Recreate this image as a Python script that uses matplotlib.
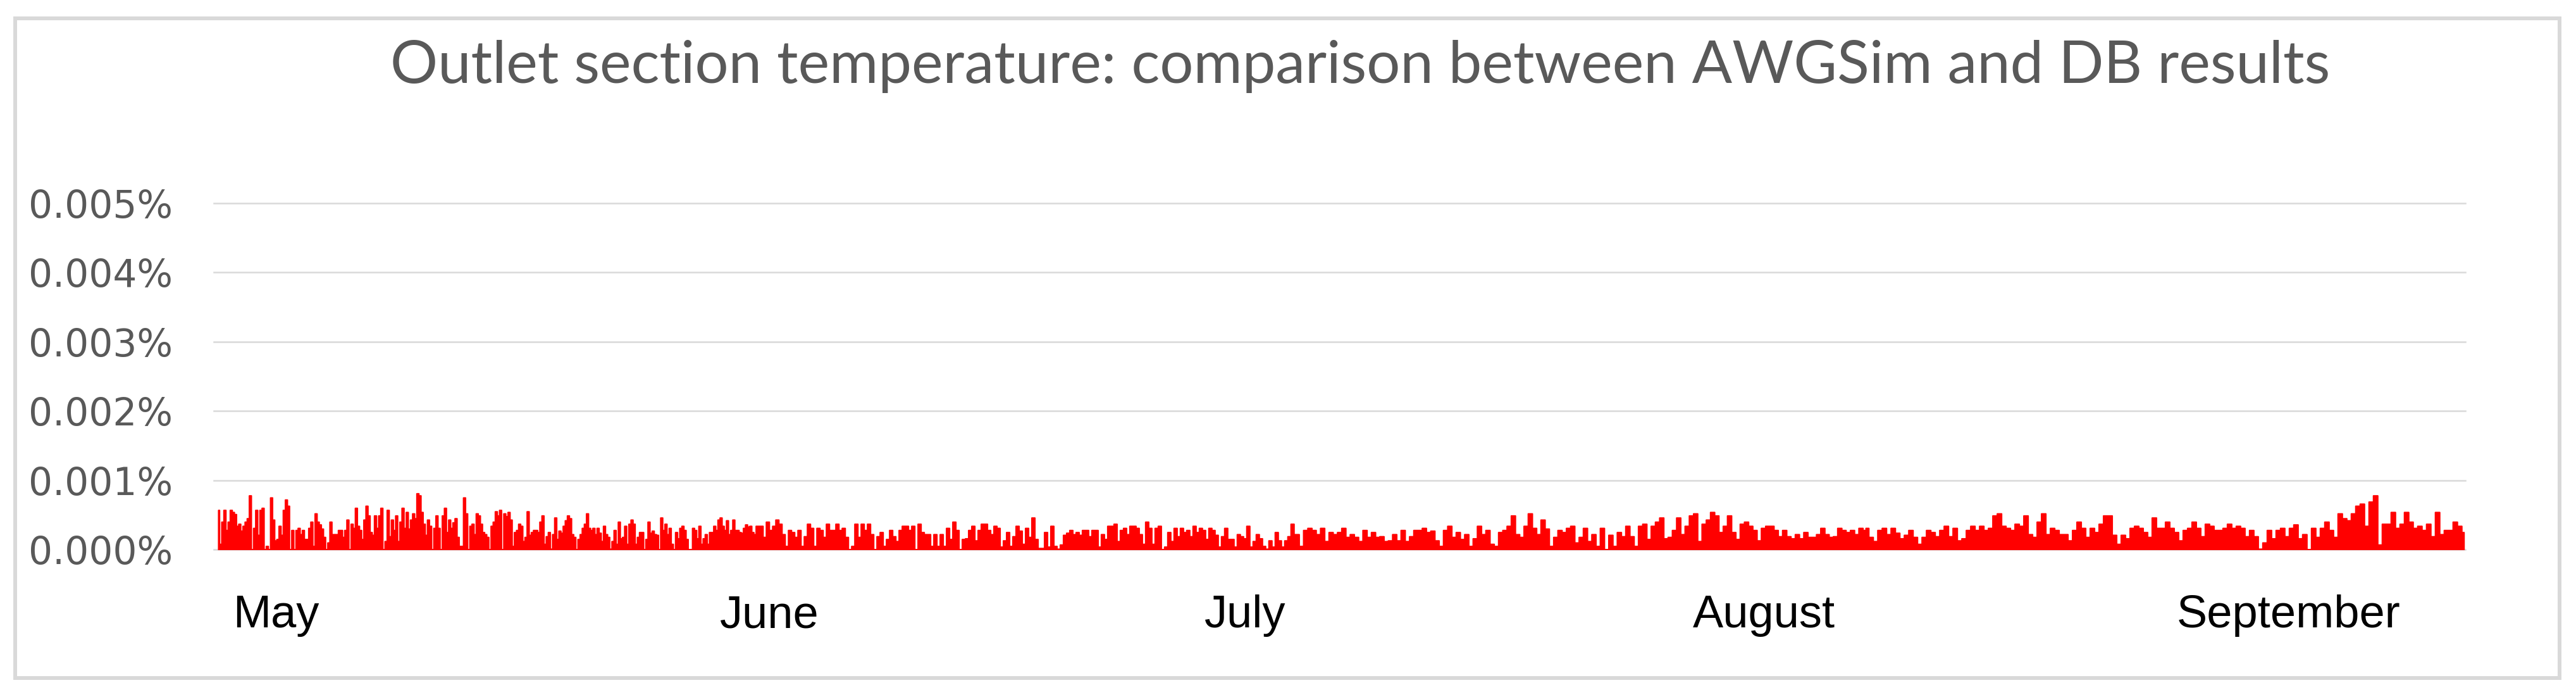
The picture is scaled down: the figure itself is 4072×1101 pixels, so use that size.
import numpy as np
import matplotlib
matplotlib.use("Agg")
import matplotlib.pyplot as plt
from matplotlib import transforms
from matplotlib.patches import Rectangle
from matplotlib.ticker import FuncFormatter

# ---------------- data ----------------
TITLE = "Outlet section temperature: comparison between AWGSim and DB results"
months = ["May", "June", "July", "August", "September"]
month_label_day = [1.3, 34.4, 67.3, 100.5, 133.4]   # days since 1 May
yticks_pct = [0.000, 0.001, 0.002, 0.003, 0.004, 0.005]

# relative difference, in thousandths of a percent
seg1_days = (0.3, 36.9)
seg1_vals = [
    0.57, 0.08, 0.40, 0.57, 0.28, 0.40, 0.57, 0.54, 0.51, 0.34,
    0.37, 0.27, 0.34, 0.40, 0.45, 0.78, 0, 0.31, 0.57, 0.21,
    0.57, 0.60, 0, 0.05, 0, 0.75, 0.43, 0.13, 0.15, 0.34,
    0.21, 0.57, 0.72, 0.63, 0, 0.28, 0, 0.28, 0.31, 0.22,
    0.28, 0.15, 0.15, 0.31, 0.40, 0.05, 0.52, 0.40, 0.36, 0.30,
    0.18, 0, 0.10, 0.40, 0.22, 0.22, 0.22, 0.28, 0.28, 0.18,
    0.28, 0.43, 0, 0.37, 0.31, 0.60, 0.34, 0.28, 0.15, 0.43,
    0.63, 0.49, 0.25, 0.21, 0.49, 0.31, 0.49, 0.60, 0, 0.12,
    0.57, 0.19, 0.43, 0.28, 0.49, 0.12, 0.40, 0.60, 0.31, 0.54,
    0.30, 0.43, 0.52, 0.45, 0.81, 0.78, 0.54, 0.37, 0.21, 0.43,
    0.34, 0, 0.31, 0.49, 0.31, 0, 0.49, 0.60, 0.25, 0.43,
    0.31, 0.39, 0.45, 0.18, 0.05, 0.05, 0.75, 0.52, 0, 0.34,
    0.37, 0.22, 0.52, 0.49, 0.37, 0.25, 0.22, 0.18, 0, 0.34,
    0.40, 0.55, 0.49, 0.57, 0, 0.52, 0.48, 0.54, 0.43, 0.05,
    0.25, 0.28, 0.37, 0.34, 0.12, 0.18, 0.55, 0.21, 0.25, 0.28,
    0.28, 0.25, 0.40, 0.49, 0.08, 0.19, 0.25, 0.01, 0.22, 0.46,
    0.15, 0.27, 0.24, 0.34, 0.42, 0.49, 0.45, 0.22, 0.18, 0,
    0.15, 0.22, 0.31, 0.37, 0.52, 0.31, 0.28, 0.31, 0.22, 0.31,
    0.24, 0.12, 0.34, 0.22, 0.18, 0.01, 0.12, 0.28, 0.08, 0.40,
    0.16, 0.18, 0.34, 0.08, 0.37, 0.43, 0.37, 0.08, 0.18, 0.25,
    0.25, 0, 0.15, 0.40, 0.24, 0.27, 0.22, 0.21, 0, 0.46,
    0.28, 0.37, 0.22, 0.31, 0.08, 0, 0.25, 0.16, 0.31, 0.34,
    0.28, 0.15, 0, 0, 0.31, 0.28, 0.16, 0.34, 0.08, 0.16,
    0.22, 0.08, 0.25, 0.25, 0.34, 0.28, 0.43, 0.46, 0.34, 0.28,
    0.42, 0.22, 0.28, 0.43, 0.28, 0.28, 0.25, 0.24, 0.31, 0.36,
    0.33, 0.34, 0.25, 0.22, 0.34,
]

seg2_days = (37.2, 73.5)
seg2_vals = [
    0.34, 0.18, 0.40, 0.28, 0.34, 0.43, 0.37, 0.22, 0.05, 0.28,
    0.25, 0.18, 0.28, 0.05, 0.19, 0.37, 0.31, 0.05, 0.31, 0.28,
    0.18, 0.37, 0.28, 0.28, 0.37, 0.28, 0.31, 0.18, 0, 0.05,
    0.37, 0.18, 0.37, 0.28, 0.37, 0.22, 0, 0.19, 0.25, 0.05,
    0.15, 0.28, 0.19, 0.12, 0.28, 0.34, 0.34, 0.28, 0.34, 0,
    0.37, 0.25, 0.22, 0.22, 0.05, 0.22, 0.05, 0.22, 0.05, 0.31,
    0.15, 0.40, 0.28, 0, 0.15, 0.16, 0.28, 0.34, 0.13, 0.28,
    0.37, 0.37, 0.28, 0.22, 0.34, 0.31, 0.04, 0.13, 0.25, 0.05,
    0.19, 0.34, 0.27, 0.08, 0.31, 0.18, 0.46, 0.15, 0.02, 0.02,
    0.25, 0.04, 0.34, 0.05, 0.01, 0.07, 0.21, 0.24, 0.28, 0.22,
    0.25, 0.21, 0.28, 0.28, 0.19, 0.28, 0.28, 0.04, 0.22, 0.15,
    0.34, 0.34, 0.37, 0.12, 0.28, 0.31, 0.22, 0.34, 0.34, 0.31,
    0.22, 0.08, 0.40, 0.31, 0.08, 0.31, 0.34, 0, 0.04, 0.25,
    0.12, 0.31, 0.19, 0.31, 0.25, 0.28, 0.19, 0.34, 0.25, 0.31,
    0.28, 0.15, 0.31, 0.28, 0.21, 0.04, 0.19, 0.31, 0.15, 0.15,
    0.04, 0.22, 0.19, 0.16, 0.34, 0.04, 0.12, 0.22, 0.16, 0.05,
    0.01, 0.13, 0.04, 0.25, 0.13, 0.04, 0.13, 0.19, 0.37, 0.22,
]

seg3_days = (73.6, 112.2)
seg3_vals = [
    0.22, 0.05, 0.28, 0.31, 0.28, 0.22, 0.31, 0.12, 0.25, 0.22,
    0.25, 0.31, 0.18, 0.22, 0.18, 0.12, 0.28, 0.18, 0.25, 0.18,
    0.19, 0.12, 0.13, 0.22, 0.13, 0.28, 0.12, 0.19, 0.28, 0.28,
    0.31, 0.25, 0.27, 0.13, 0.05, 0.28, 0.34, 0.18, 0.25, 0.15,
    0.22, 0.05, 0.16, 0.34, 0.22, 0.28, 0.08, 0.05, 0.25, 0.28,
    0.34, 0.49, 0.22, 0.18, 0.34, 0.52, 0.31, 0.22, 0.43, 0.30,
    0.05, 0.18, 0.28, 0.25, 0.31, 0.34, 0.10, 0.18, 0.31, 0.12,
    0.22, 0.05, 0.31, 0, 0.21, 0.05, 0.25, 0.19, 0.34, 0.19,
    0.05, 0.34, 0.37, 0.15, 0.34, 0.40, 0.46, 0.16, 0.18, 0.28,
    0.46, 0.22, 0.34, 0.49, 0.52, 0.12, 0.37, 0.43, 0.54, 0.49,
    0.25, 0.34, 0.49, 0.25, 0.15, 0.37, 0.40, 0.34, 0.28, 0.13,
    0.31, 0.34, 0.34, 0.28, 0.19, 0.28, 0.19, 0.16, 0.22, 0.16,
    0.25, 0.18, 0.18, 0.22, 0.31, 0.22, 0.18, 0.19, 0.31, 0.28,
    0.25, 0.28, 0.22, 0.31, 0.28,
]

seg4_days = (112.3, 152.9)
seg4_vals = [
    0.31, 0.18, 0.12, 0.28, 0.31, 0.22, 0.31, 0.24, 0.16, 0.21,
    0.28, 0.18, 0.08, 0.18, 0.28, 0.25, 0.19, 0.28, 0.34, 0.19,
    0.31, 0.13, 0.16, 0.28, 0.34, 0.28, 0.34, 0.28, 0.31, 0.49,
    0.52, 0.34, 0.31, 0.28, 0.37, 0.34, 0.49, 0.22, 0.18, 0.40,
    0.52, 0.22, 0.31, 0.28, 0.22, 0.22, 0.13, 0.28, 0.40, 0.31,
    0.18, 0.31, 0.25, 0.37, 0.49, 0.49, 0.21, 0.08, 0.21, 0.16,
    0.31, 0.34, 0.31, 0.25, 0.18, 0.46, 0.31, 0.31, 0.40, 0.31,
    0.25, 0.13, 0.28, 0.31, 0.40, 0.31, 0.19, 0.37, 0.34, 0.28,
    0.28, 0.31, 0.37, 0.31, 0.34, 0.31, 0.19, 0.28, 0.19, 0.01,
    0.10, 0.28, 0.16, 0.28, 0.31, 0.19, 0.31, 0.36, 0.16, 0.22,
    0, 0.31, 0.18, 0.31, 0.40, 0.28, 0.18, 0.52, 0.45, 0.42,
    0.52, 0.63, 0.66, 0.34, 0.69, 0.78, 0.07, 0.37, 0.37, 0.54,
    0.31, 0.37, 0.54, 0.40, 0.31, 0.34, 0.28, 0.37, 0.19, 0.54,
    0.22, 0.28, 0.28, 0.40, 0.34, 0.25,
]

X_RANGE_DAYS = (0, 153)

# ---------------- figure ----------------
W, H = 4073, 1101
fig = plt.figure(figsize=(W / 100, H / 100), dpi=100)
fig.patch.set_facecolor("white")

# outer chart frame
fig.add_artist(Rectangle((24 / W, 1 - 1071 / H), (4046 - 24) / W, (1071 - 28.5) / H,
                         transform=fig.transFigure, fill=False,
                         edgecolor="#d9d9d9", linewidth=4.3))

ax = fig.add_axes([338 / W, 1 - 868 / H, (3897 - 338) / W, (868 - 321) / H])

segments = [(seg1_days, seg1_vals), (seg2_days, seg2_vals),
            (seg3_days, seg3_vals), (seg4_days, seg4_vals)]
x = np.concatenate([np.linspace(a, b, len(v)) for (a, b), v in segments])
y = np.concatenate([np.asarray(v, dtype=float) for _, v in segments]) * 1e-3  # percent

ax.fill_between(x, 0, y, step="mid", color="#ff0000", linewidth=1.5,
                edgecolor="#ff0000", zorder=3)

ax.set_xlim(*X_RANGE_DAYS)
ax.set_ylim(yticks_pct[0], yticks_pct[-1])
ax.set_yticks(yticks_pct)
ax.yaxis.set_major_formatter(FuncFormatter(lambda v, p: f"{v:.3f}%"))
ax.set_xticks([])
ax.grid(axis="y", color="#d9d9d9", linewidth=1.8, zorder=0)
ax.set_axisbelow(True)
for gl in ax.get_ygridlines():
    gl.set_clip_on(False)
for s in ax.spines.values():
    s.set_visible(False)
ax.tick_params(axis="y", length=0, pad=47, labelsize=43, labelcolor="#595959")
for lab in ax.get_yticklabels():
    lab.set_fontfamily("DejaVu Sans")

# month labels
trans = transforms.blended_transform_factory(ax.transData, fig.transFigure)
for d, m in zip(month_label_day, months):
    ax.text(d, 1 - 991 / H, m, transform=trans, ha="left", va="baseline",
            fontsize=52, color="black", family=["Liberation Sans", "DejaVu Sans"])

# title
t = fig.text(2150 / W, 1 - 131 / H, TITLE, ha="center", va="baseline",
             fontsize=64, color="#595959",
             family=["Lato", "Open Sans", "DejaVu Sans"], fontweight="normal")
fig.canvas.draw()
w = t.get_window_extent().width
t.set_fontsize(64 * 3068 / w)

fig.savefig("out.png", dpi=100, facecolor="white")
